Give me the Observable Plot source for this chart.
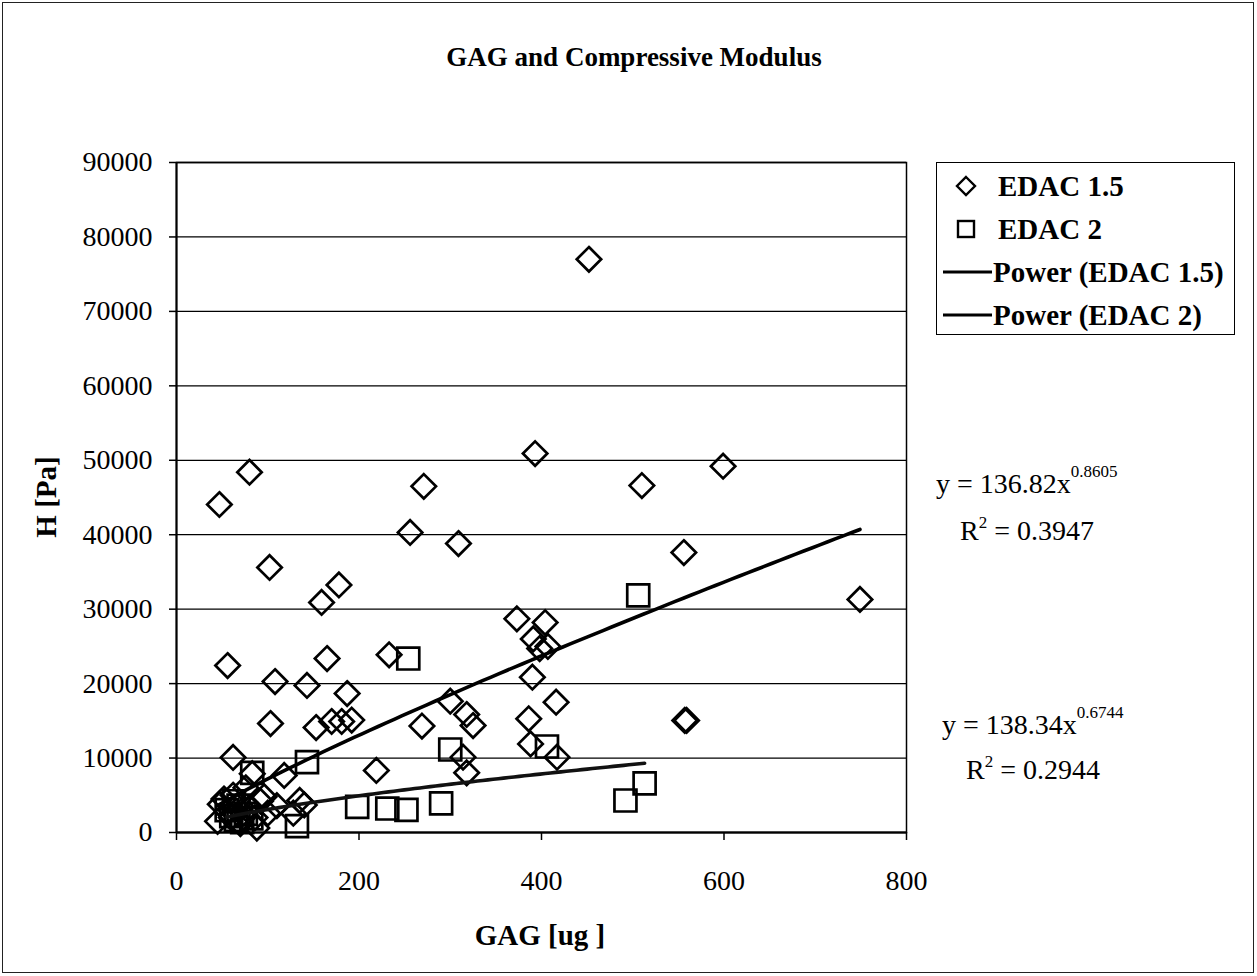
<!DOCTYPE html>
<html>
<head>
<meta charset="utf-8">
<script src="https://cdn.jsdelivr.net/npm/d3@7"></script>
<script src="https://cdn.jsdelivr.net/npm/@observablehq/plot@0.6"></script>
<style>
  html, body { margin: 0; padding: 0; background: #fff; }
  #wrap { position: relative; width: 1257px; height: 976px; overflow: hidden; background: #fff;
          font-family: "Liberation Serif", "Times New Roman", serif; color: #000; }
  #outer { position: absolute; left: 2px; top: 2px; width: 1252px; height: 971px; border: 1.5px solid #222; box-sizing: border-box; }
  .t { position: absolute; white-space: nowrap; line-height: 1; }
  .b { font-weight: bold; }
  .sup { position: relative; font-size: 17px; }
  #legend { position: absolute; left: 936px; top: 162px; width: 299px; height: 173px; border: 1.5px solid #000; box-sizing: border-box; background: #fff; }
  svg.plot { position: absolute; left: 0; top: 0; }
</style>
</head>
<body>
<div id="wrap">
  <div id="outer"></div>
</div>
<script>
// ---- data ----
const seriesNames = ["EDAC 1.5", "EDAC 2"];
const edac15X = [47,80,102,56,108,103,143,159,178,165,153,170,181,187,192,62,118,233,219,256,271,269,309,300,314,318,318,325,373,393,391,404,398,407,390,386,388,416,417,452,510,556,599,557,559,749,
                 45,48,52,56,60,62,66,70,73,76,80,83,86,88,92,96,100,110,128,135,140];
const edac15Y = [44060,48400,35600,22430,20280,14640,19750,30900,33250,23370,14100,14910,14910,18670,15100,10080,7660,23870,8330,40300,46500,14300,38820,17640,10120,8020,15850,14370,28700,50900,26000,28200,24700,25000,20860,15270,11900,17500,10120,77000,46600,37610,49200,15050,15050,31300,
                 1500,3800,4500,2800,2000,5000,3500,1200,2600,6000,3300,7900,2000,600,4200,4800,2600,3600,2600,4300,3700];
const edac2X = [506,254,143,300,406,83,198,231,252,290,492,513,132,55,60,65,68,72,76,82,63];
const edac2Y = [31840,23370,9450,11150,11550,8000,3450,3220,3050,3900,4300,6600,850,3000,2200,1700,3600,1400,2500,1900,4200];
// power trendline coefficients y = a * x^b (as printed on the chart)
const fitA = [136.82, 138.34];
const fitB = [0.8605, 0.6744];
const fitR2 = ["0.3947", "0.2944"];
const xTicks = [0, 200, 400, 600, 800];
const yTicks = [0, 10000, 20000, 30000, 40000, 50000, 60000, 70000, 80000, 90000];

// ---- build tables ----
const pts15 = edac15X.map((x, i) => ({x, y: edac15Y[i]}));
const pts2 = edac2X.map((x, i) => ({x, y: edac2Y[i]}));
function fitLine(xs, a, b) {
  const lo = d3.min(xs), hi = d3.max(xs), n = 80;
  return d3.range(n + 1).map(i => { const x = lo + (hi - lo) * i / n; return {x, y: a * Math.pow(x, b)}; });
}
const fit15 = fitLine(edac15X, fitA[0], fitB[0]);
const fit2 = fitLine(edac2X, fitA[1], fitB[1]);

const plot = Plot.plot({
  width: 1257, height: 976,
  marginLeft: 176, marginRight: 351, marginTop: 162, marginBottom: 144,
  x: {domain: [0, 800], label: null},
  y: {domain: [0, 90000], label: null},
  style: {fontFamily: '"Liberation Serif", "Times New Roman", serif', fontSize: "28px", color: "#000", background: "transparent", overflow: "visible"},
  marks: [
    Plot.gridY(yTicks, {stroke: "#000", strokeOpacity: 1, strokeWidth: 1.3}),
    Plot.frame({stroke: "#000", strokeWidth: 1.5}),
    Plot.ruleX([0], {stroke: "#000", strokeWidth: 2}),
    Plot.ruleY([0], {stroke: "#000", strokeWidth: 2}),
    Plot.axisY(yTicks, {tickSize: 7, tickPadding: 17, tickFormat: d => String(d), label: null, strokeWidth: 1.5}),
    Plot.axisX(xTicks, {tickSize: 8, tickPadding: 30, tickFormat: d => String(d), label: null, strokeWidth: 1.5}),
    Plot.dot(pts15, {x: "x", y: "y", symbol: "diamond2", r: 11, stroke: "#000", strokeWidth: 2.7, fill: "none"}),
    Plot.dot(pts2, {x: "x", y: "y", symbol: "square2", r: 14, stroke: "#000", strokeWidth: 2.7, fill: "none"}),
    Plot.line(fit15, {x: "x", y: "y", stroke: "#000", strokeWidth: 3.6}),
    Plot.line(fit2, {x: "x", y: "y", stroke: "#111", strokeWidth: 3.6})
  ]
});
plot.classList.add("plot");
const wrap = document.getElementById("wrap");
wrap.appendChild(plot);

function addText(html, css, cls) {
  const d = document.createElement("div");
  d.className = "t " + (cls || "");
  d.innerHTML = html;
  Object.assign(d.style, css);
  wrap.appendChild(d);
  return d;
}
// title
addText("GAG and Compressive Modulus", {left: "634px", top: "44px", fontSize: "27px", transform: "translateX(-50%)"}, "b");
// axis labels
addText("GAG [ug ]", {left: "540px", top: "921px", fontSize: "29px", transform: "translateX(-50%)"}, "b");
addText("H [Pa]", {left: "46px", top: "497px", fontSize: "29px", transform: "translate(-50%,-50%) rotate(-90deg)"}, "b");

// equations
addText(`y = ${fitA[0]}x<span class="sup" style="top:-16px">${fitB[0]}</span>`, {left: "936px", top: "470px", fontSize: "28px"});
addText(`R<span class="sup" style="top:-12px">2</span> = ${fitR2[0]}`, {left: "960px", top: "517px", fontSize: "28px"});
addText(`y = ${fitA[1]}x<span class="sup" style="top:-16px">${fitB[1]}</span>`, {left: "942px", top: "711px", fontSize: "28px"});
addText(`R<span class="sup" style="top:-12px">2</span> = ${fitR2[1]}`, {left: "966px", top: "756px", fontSize: "28px"});

// legend
const lg = document.createElement("div");
lg.id = "legend";
wrap.appendChild(lg);
const rows = [
  {label: seriesNames[0], kind: "diamond", cy: 186, tx: 998},
  {label: seriesNames[1], kind: "square", cy: 229, tx: 998},
  {label: `Power (${seriesNames[0]})`, kind: "line", cy: 272, tx: 993},
  {label: `Power (${seriesNames[1]})`, kind: "line", cy: 315, tx: 993}
];
const ns = "http://www.w3.org/2000/svg";
const lsvg = document.createElementNS(ns, "svg");
lsvg.setAttribute("width", 1257); lsvg.setAttribute("height", 976);
lsvg.style.position = "absolute"; lsvg.style.left = "0"; lsvg.style.top = "0"; lsvg.style.pointerEvents = "none";
for (const r of rows) {
  let el;
  if (r.kind === "diamond") {
    el = document.createElementNS(ns, "path");
    const cx = 966, h = 9;
    el.setAttribute("d", `M${cx},${r.cy - h}L${cx + h},${r.cy}L${cx},${r.cy + h}L${cx - h},${r.cy}Z`);
  } else if (r.kind === "square") {
    el = document.createElementNS(ns, "rect");
    el.setAttribute("x", 966 - 8); el.setAttribute("y", r.cy - 8);
    el.setAttribute("width", 16); el.setAttribute("height", 16);
  } else {
    el = document.createElementNS(ns, "line");
    el.setAttribute("x1", 943); el.setAttribute("x2", 992);
    el.setAttribute("y1", r.cy); el.setAttribute("y2", r.cy);
  }
  el.setAttribute("fill", "none"); el.setAttribute("stroke", "#000");
  el.setAttribute("stroke-width", r.kind === "line" ? 3 : 2.4);
  lsvg.appendChild(el);
  addText(r.label, {left: r.tx + "px", top: (r.cy - 14) + "px", fontSize: "29px"}, "b");
}
wrap.appendChild(lsvg);
</script>
</body>
</html>
